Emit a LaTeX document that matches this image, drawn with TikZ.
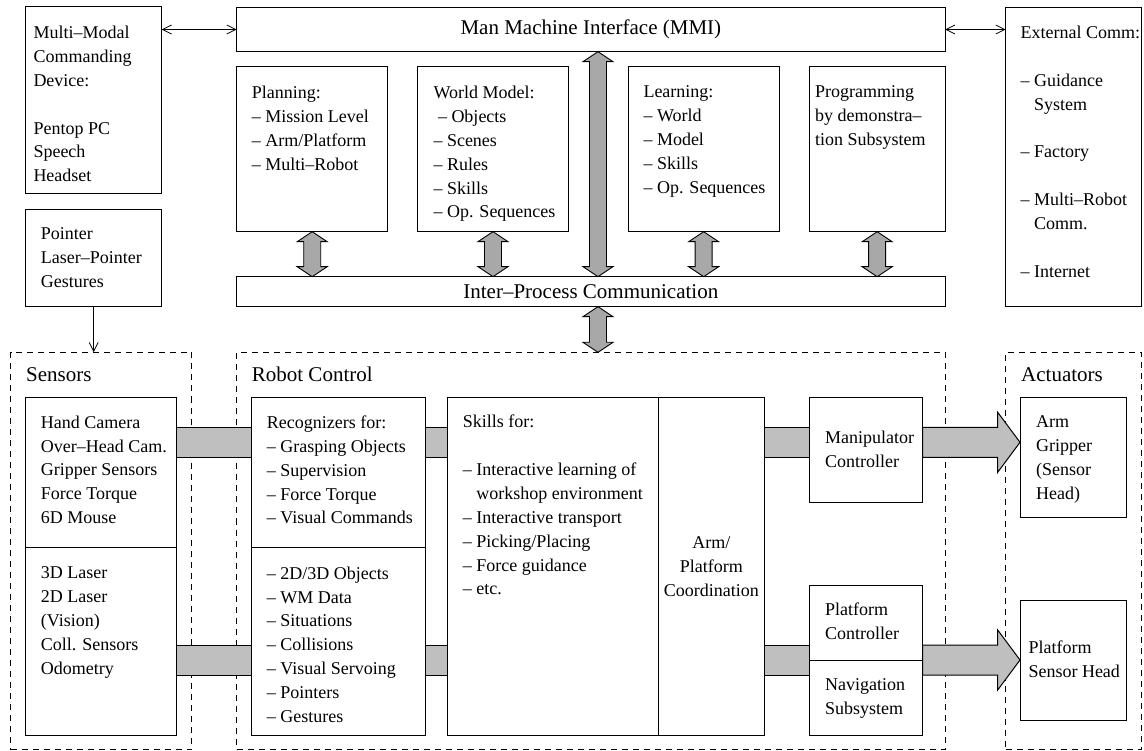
\documentclass[tikz,border=0pt]{standalone}
\usepackage{fontspec}
\setmainfont{Liberation Serif}
\usetikzlibrary{calc,arrows.meta}
\newcommand\dblarr[2]{\filldraw[vbar] (#1) -- ($(#1)+(15,10)$) -- ($(#1)+(8.5,10)$) -- ($(#2)+(8.5,-10)$) -- ($(#2)+(15,-10)$) -- (#2) -- ($(#2)+(-15,-10)$) -- ($(#2)+(-8.5,-10)$) -- ($(#1)+(-8.5,10)$) -- ($(#1)+(-15,10)$) -- cycle;}
\newcommand\hbarr[3]{\filldraw[hbar] ($(#1|-#3)+(0,-15)$) rectangle ($(#2|-#3)+(0,15)$);}
\newcommand\fatarr[3]{\filldraw[hbar] ($(#1|-#3)+(0,-15)$) -- ($(#2|-#3)+(-22.3,-15)$) -- ($(#2|-#3)+(-22.3,-30)$) -- (#2|-#3) -- ($(#2|-#3)+(-22.3,30)$) -- ($(#2|-#3)+(-22.3,15)$) -- ($(#1|-#3)+(0,15)$) -- cycle;}
\tikzset{
 box/.style={draw=black, line width=1pt, anchor=north west, inner sep=0pt, outer sep=0pt},
 dbox/.style={box, dash pattern=on 6pt off 5pt},
 body/.style={font=\fontsize{18pt}{23.9pt}\selectfont},
 big/.style={font=\fontsize{21pt}{23.9pt}\selectfont},
 txt/.style={body, anchor=north west, inner sep=0pt, align=left, execute at begin node=\strut, yshift=-4.5pt},
 lbl/.style={big, anchor=base west, inner sep=0pt},
 hbar/.style={fill=black!25, draw=black, line width=1pt, line join=miter},
 vbar/.style={fill=black!34, draw=black, line width=0.9pt, line join=miter},
 link/.style={line width=0.8pt, {Straight Barb[length=9pt,width=9pt]}-{Straight Barb[length=9pt,width=9pt]}},
 linkone/.style={line width=0.8pt, -{Straight Barb[length=9pt,width=9pt]}},
}
\begin{document}
\begin{tikzpicture}[x=1pt,y=-1pt]
\useasboundingbox (0,0) rectangle (1144,751);
\coordinate (r1) at (0,442.3);
\coordinate (r2) at (0,660);
\coordinate (cx) at (598,0);

% dashed groups
\node[dbox, minimum width=181pt, minimum height=397.2pt] (sensors) at (10.7,352.3) {};
\node[dbox, minimum width=708.3pt, minimum height=397.2pt] (rc) at (236.7,352.3) {};
\node[dbox, minimum width=135.3pt, minimum height=397.2pt] (act) at (1005.7,352.3) {};
\node[lbl] (lsens) at (26,382) {Sensors};
\node[lbl] (lrc) at (251.7,382) {Robot Control};
\node[lbl] (lact) at (1021,382) {Actuators};

% top boxes
\node[box, minimum width=136pt, minimum height=187.3pt] (mmd) at (25.7,6.7) {};
\node[box, minimum width=136pt, minimum height=97.4pt] (ptr) at (25.7,209.3) {};
\node[box, big, minimum width=708.3pt, minimum height=44.4pt] (mmi) at (236.7,7.3) {Man Machine Interface (MMI)};
\node[box, minimum width=151pt, minimum height=165pt] (plan) at (236.7,66.7) {};
\node[box, minimum width=150.6pt, minimum height=165pt] (wm) at (417.7,66.7) {};
\node[box, minimum width=150.7pt, minimum height=165pt] (learn) at (628.3,66.7) {};
\node[box, minimum width=135.7pt, minimum height=165pt] (prog) at (809.3,66.7) {};
\node[box, big, minimum width=708.3pt, minimum height=30pt] (ipc) at (236.7,276.7) {Inter–Process Communication};
\node[box, minimum width=135.3pt, minimum height=299.4pt] (ext) at (1005.7,7.3) {};

% lower boxes
\node[box, minimum width=151pt, minimum height=150pt] (sens1) at (25.7,397.3) {};
\node[box, minimum width=151pt, minimum height=188.4pt] (sens2) at (25.7,547.3) {};
\node[box, minimum width=173.6pt, minimum height=150pt] (rec1) at (251.7,397.3) {};
\node[box, minimum width=173.6pt, minimum height=188.4pt] (rec2) at (251.7,547.3) {};
\node[box, minimum width=210.6pt, minimum height=338.4pt] (skills) at (447.7,397.3) {};
\node[box, body, align=center, minimum width=106pt, minimum height=338.4pt] (coord) at (658.3,397.3) {Arm/\\Platform\\Coordination};
\node[box, minimum width=113.4pt, minimum height=105pt] (manip) at (809.3,397.3) {};
\node[box, minimum width=113.4pt, minimum height=75pt] (platc) at (809.3,585.7) {};
\node[box, minimum width=113.4pt, minimum height=75pt] (nav) at (809.3,660.7) {};
\node[box, minimum width=106pt, minimum height=120pt] (arm) at (1020,397.3) {};
\node[box, minimum width=106pt, minimum height=120pt] (psh) at (1020,600) {};

% texts
\node[txt] (tmmd) at (33.3,21.3) {Multi–Modal\\Commanding\\Device:\\\strut\\Pentop PC\\Speech\\Headset};
\node[txt] (tptr) at (40.7,223.3) {Pointer\\Laser–Pointer\\Gestures};
\node[txt] (tplan) at (251.7,81.3) {Planning:\\– Mission Level\\– Arm/Platform\\– Multi–Robot};
\node[txt] (twm) at (433.3,81.3) {World Model:\\\kern4.5pt– Objects\\– Scenes\\– Rules\\– Skills\\– Op. Sequences};
\node[txt] (tlearn) at (643.3,81.3) {Learning:\\– World\\– Model\\– Skills\\– Op. Sequences};
\node[txt] (tprog) at (815,81.3) {Programming\\by demonstra–\\tion Subsystem};
\node[txt] (text) at (1020.5,21.3) {External Comm:\\\strut\\– Guidance\\\hphantom{– }System\\\strut\\– Factory\\\strut\\– Multi–Robot\\\hphantom{– }Comm.\\\strut\\– Internet};
\node[txt] (tsens1) at (40.7,411) {Hand Camera\\Over–Head Cam.\\Gripper Sensors\\Force Torque\\6D Mouse};
\node[txt] (tsens2) at (40.7,562) {3D Laser\\2D Laser\\(Vision)\\Coll. Sensors\\Odometry};
\node[txt] (trec1) at (266.7,411) {Recognizers for:\\– Grasping Objects\\– Supervision\\– Force Torque\\– Visual Commands};
\node[txt] (trec2) at (266.7,562) {– 2D/3D Objects\\– WM Data\\– Situations\\– Collisions\\– Visual Servoing\\– Pointers\\– Gestures};
\node[txt] (tskills) at (462.7,410.3) {Skills for:\\\strut\\– Interactive learning of\\\hphantom{– }workshop environment\\– Interactive transport\\– Picking/Placing\\– Force guidance\\– etc.};
\node[txt] (tmanip) at (825,426.6) {Manipulator\\Controller};
\node[txt] (tplatc) at (825,598.6) {Platform\\Controller};
\node[txt] (tnav) at (825,673.6) {Navigation\\Subsystem};
\node[txt] (tarm) at (1036,411) {Arm\\Gripper\\(Sensor\\Head)};
\node[txt] (tpsh) at (1028.3,636) {Platform\\Sensor Head};

% thin connectors
\draw[link] (mmd.east|-mmi.west) -- (mmi.west);
\draw[link] (mmi.east) -- (ext.west|-mmi.east);
\draw[linkone] (ptr.south) -- (ptr.south|-sensors.north);

% vertical double arrows
\dblarr{plan.south}{plan.south|-ipc.north}
\dblarr{wm.south}{wm.south|-ipc.north}
\dblarr{learn.south}{learn.south|-ipc.north}
\dblarr{prog.south}{prog.south|-ipc.north}
\dblarr{mmi.south-|cx}{ipc.north-|cx}
\dblarr{ipc.south-|cx}{rc.north-|cx}

% horizontal bars
\hbarr{sens1.east}{rec1.west}{r1}
\hbarr{rec1.east}{skills.west}{r1}
\hbarr{coord.east}{manip.west}{r1}
\fatarr{manip.east}{arm.west}{r1}
\hbarr{sens2.east}{rec2.west}{r2}
\hbarr{rec2.east}{skills.west}{r2}
\hbarr{coord.east}{platc.west}{r2}
\fatarr{platc.east}{psh.west}{r2}
\end{tikzpicture}
\end{document}
